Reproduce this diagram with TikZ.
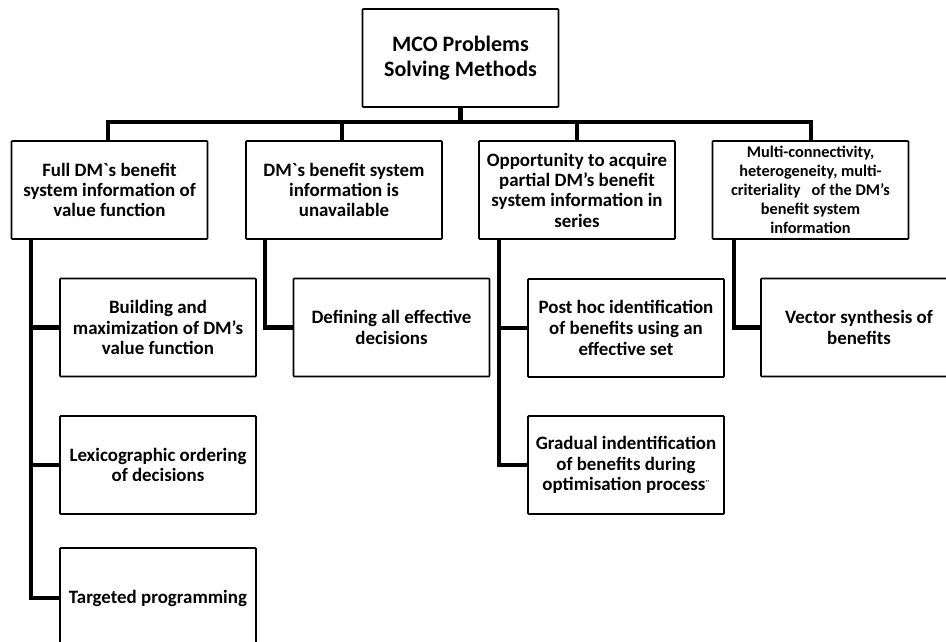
\documentclass[tikz,border=0pt]{standalone}
\usepackage{fontspec}
\newfontfamily\calib{Carlito}
\begin{document}
\begin{tikzpicture}[x=1pt,y=-1pt,
  box/.style={draw=black,line width=1.6pt,rounded corners=0.8pt,fill=white,
    minimum width=196pt,minimum height=98pt,inner sep=1pt,align=center,
    font=\calib\bfseries\fontsize{18.9}{20.3}\selectfont},
  topbox/.style={box,font=\calib\bfseries\fontsize{22}{25.5}\selectfont},
  smallbox/.style={box,font=\calib\bfseries\fontsize{16.3}{19}\selectfont},
  leafbox/.style={box,font=\calib\bfseries\fontsize{18.9}{20.8}\selectfont},
  conn/.style={draw=black,line width=4.2pt}]
\useasboundingbox (0,0) rectangle (946,642);
\clip (0,0) rectangle (946,642);
\fill[white] (0,0) rectangle (946,642);

% top
\node[topbox] (top) at (460.5,58) {MCO Problems\\Solving Methods};

% categories
\node[box] (c1) at (109.5,190) {Full DM`s benefit\\system information of\\value function};
\node[box] (c2) at (344,190) {DM`s benefit system\\information is\\unavailable};
\node[box] (c3) at (577,190) {Opportunity to acquire\\partial DM’s benefit\\system information in\\series};
\node[smallbox] (c4) at (810.5,190) {Multi-connectivity,\\heterogeneity, multi-\\criteriality\ \ \ of the DM’s\\benefit system\\information};

% leaves
\node[leafbox] (l11) at (158,327.5) {Building and\\maximization of DM’s\\value function};
\node[leafbox] (l12) at (158,465) {Lexicographic ordering\\of decisions};
\node[leafbox,minimum height=100pt] (l13) at (158,598) {Targeted programming};
\node[leafbox] (l21) at (391.5,327.5) {Defining all effective\\decisions};
\node[leafbox] (l31) at (626,328) {Post hoc identification\\of benefits using an\\effective set};
\node[leafbox] (l32) at (626,465) {Gradual indentification\\of benefits during\\optimisation process\raisebox{0.4ex}{\fontsize{10}{10}\selectfont ¨}};
\node[leafbox] (l41) at (859,327.5) {Vector synthesis of\\benefits};

% bus
\coordinate (bus) at (0,122);
\draw[conn] (top.south) -- (top.south |- bus);
\draw[conn,line cap=rect] ([xshift=-1.5pt]c1.north |- bus) -- ([xshift=0.5pt]c4.north |- bus);
\draw[conn] ([xshift=-1.5pt]c1.north) -- ([xshift=-1.5pt]c1.north |- bus);
\draw[conn] ([xshift=-2pt]c2.north) -- ([xshift=-2pt]c2.north |- bus);
\draw[conn] (c3.north) -- (c3.north |- bus);
\draw[conn] ([xshift=0.5pt]c4.north) -- ([xshift=0.5pt]c4.north |- bus);

% trunks
\coordinate (t1) at ([xshift=20pt]c1.south west);
\coordinate (t2) at ([xshift=20pt]c2.south west);
\coordinate (t3) at ([xshift=21pt]c3.south west);
\coordinate (t4) at ([xshift=22pt]c4.south west);
\draw[conn,line join=miter] (t1) |- (l13.west);
\draw[conn] (l11.west) -- (l11.west -| t1);
\draw[conn] (l12.west) -- (l12.west -| t1);
\draw[conn,line join=miter] (t2) |- (l21.west);
\draw[conn,line join=miter] (t3) |- (l32.west);
\draw[conn] (l31.west) -- (l31.west -| t3);
\draw[conn,line join=miter] (t4) |- (l41.west);
\end{tikzpicture}
\end{document}
